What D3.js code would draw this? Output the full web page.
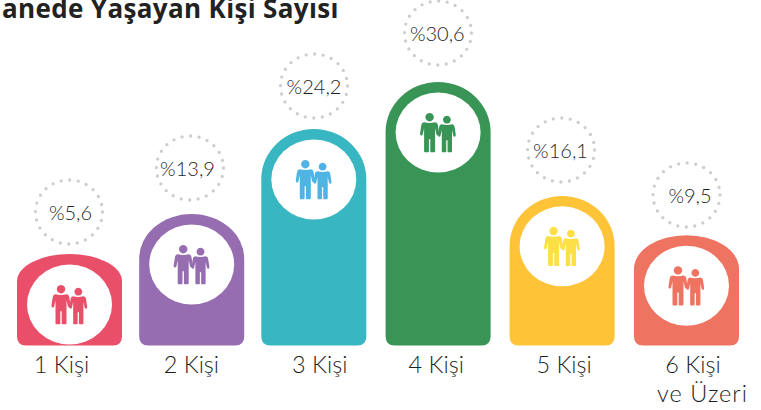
<!DOCTYPE html>
<html><head><meta charset="utf-8">
<script src="https://cdn.jsdelivr.net/npm/d3@7"></script>
<style>html,body{margin:0;background:#fff}svg{display:block}text{font-family:Lato,sans-serif;fill:#1f1f1f}</style>
</head><body><div id="c"></div>
<script>
const title = "anede Yaşayan Kişi Sayısı";
const categories = ["1 Kişi","2 Kişi","3 Kişi","4 Kişi","5 Kişi","6 Kişi"];
const extraLabel = ["","","","","","ve Üzeri"];
const values = [5.6,13.9,24.2,30.6,16.1,9.5];
const colors = ["#ea4f6a","#966db0","#38b6c2","#389556","#fec337","#ee7461"];
const iconColors = ["#ea4f6a","#966db0","#4fb3e4","#389556","#fde047","#ee7461"];
// small hand placement offsets of the source graphic
const barNudge = [0,-1.2,-2.5,-1.6,-1,0];
const labelNudge = [-8,-1.5,3.5,-3.5,1,6.5];
const ringNudge = [-0.5,-3,-2.3,-1.7,-2,0];
const valueNudge = [1,-5.4,-2.3,-2.4,-2.6,3.5];
const W=761,H=410,baseY=345.5;
const svg=d3.select("#c").append("svg").attr("width",W).attr("height",H);
const x=d3.scaleBand().domain(categories).range([17,739]).paddingInner(0.149).paddingOuter(0);
// the source graphic is not drawn to a linear scale: piecewise scales
const y=d3.scaleLinear().domain([5.6,13.9,24.2,30.6]).range([254,214,129,82]);
const ringY=d3.scaleLinear().domain([5.6,9.5,13.9,16.1,24.2,30.6]).range([212,195,168,150,86,33]);
const arch=d3.scaleLinear().domain([92,109,130,148]).range([27,33,44,50]).clamp(true);
const fmt=v=>"%"+String(v).replace(".",",");
const person="M0,-4.2a4.2,4.2 0 1,0 .01,0z M-5.5,5Q0,6.5 5.5,5L7,5.5Q8,6 8.3,8L9.5,16q.3,2 -1,2.2q-1.2,.2 -1.6,-1L5.5,11V34q0,1 -1,1H1.5q-.8,0 -.8,-1V22h-1.4V34q0,1 -.8,1H-4.5q-1,0 -1,-1V11L-6.9,17.2q-.4,1.2 -1.6,1q-1.3,-.2 -1,-2.2L-8.3,8Q-8,6 -7,5.5Z";
const barPath=(x0,top,w,bot,a)=>{
  const c=9;
  return `M${x0},${top+a}A${w/2},${a} 0 0 1 ${x0+w},${top+a}V${bot-c}Q${x0+w},${bot} ${x0+w-c},${bot}H${x0+c}Q${x0},${bot} ${x0},${bot-c}Z`;
};
const g=svg.selectAll("g.b").data(categories).join("g").attr("class","b");
g.append("path").attr("fill",(d,i)=>colors[i])
 .attr("d",(d,i)=>{const t=y(values[i]);return barPath(x(d)+barNudge[i],t,x.bandwidth(),baseY,arch(baseY-t));});
const cx=d=>x(d)+x.bandwidth()/2;
g.append("ellipse").attr("fill","#fff").attr("cx",(d,i)=>cx(d)+barNudge[i]).attr("cy",(d,i)=>y(values[i])+50.5).attr("rx",42.5).attr("ry",40);
const ic=g.append("g").attr("fill",(d,i)=>iconColors[i]).attr("transform",(d,i)=>`translate(${cx(d)+barNudge[i]},${y(values[i])+50.5})`);
ic.append("path").attr("d",person).attr("transform","translate(-8.5,-15.3)");
ic.append("path").attr("d",person).attr("transform","translate(8.8,-12.8) scale(.93)");
// dotted value rings
g.append("ellipse").attr("fill","none").attr("stroke","#cdcdcd").attr("stroke-width",3.3).attr("stroke-linecap","round")
 .attr("stroke-dasharray","0 8.6").attr("cx",(d,i)=>cx(d)+ringNudge[i]).attr("cy",(d,i)=>ringY(values[i])).attr("rx",33.5).attr("ry",32);
g.append("text").attr("text-anchor","middle").attr("font-size",20).attr("font-weight",300)
 .attr("x",(d,i)=>cx(d)+valueNudge[i]).attr("y",(d,i)=>ringY(values[i])+7.5).text((d,i)=>fmt(values[i]));
g.append("text").attr("text-anchor","middle").attr("font-size",23.5).attr("font-weight",300)
 .attr("x",(d,i)=>cx(d)+labelNudge[i]).attr("y",373).text(d=>d);
g.append("text").attr("text-anchor","middle").attr("font-size",23.5).attr("font-weight",300).attr("letter-spacing",1)
 .attr("x",(d,i)=>cx(d)+16).attr("y",402).text((d,i)=>extraLabel[i]);
svg.append("text").attr("x",2).attr("y",18).attr("font-size",26).attr("font-weight",700).attr("letter-spacing",0.35).style("font-family","'Open Sans',sans-serif").style("fill","#222").text(title);
</script></body></html>
